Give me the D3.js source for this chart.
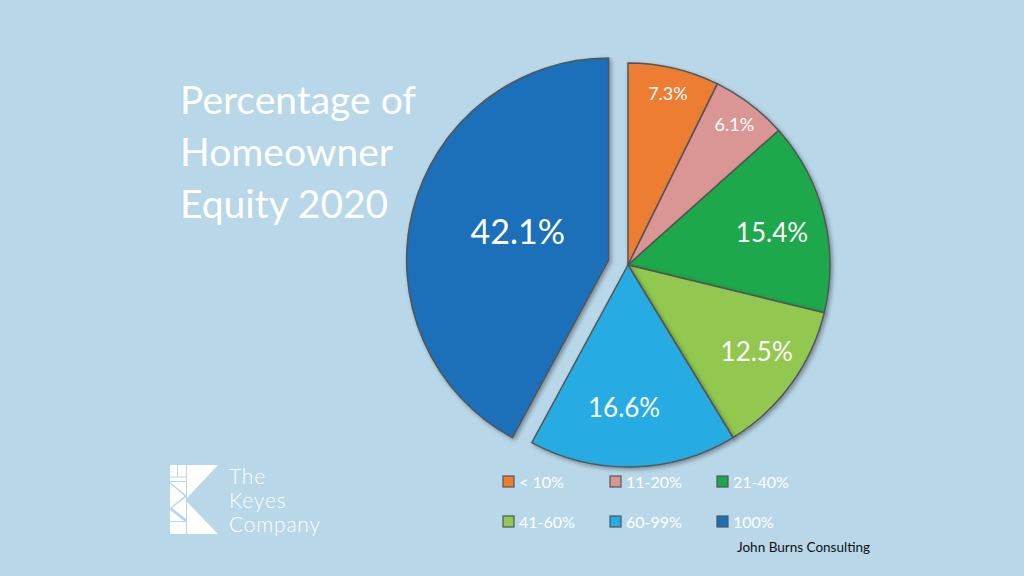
<!DOCTYPE html>
<html>
<head>
<meta charset="utf-8">
<script src="https://cdn.jsdelivr.net/npm/d3@7"></script>
<style>
  body { margin: 0; background: #b8d7e8; }
  svg { display: block; font-family: "Lato", "Open Sans", sans-serif; }
</style>
</head>
<body>
<svg id="chart"></svg>
<script>
// data
const categories = ["< 10%", "11-20%", "21-40%", "41-60%", "60-99%", "100%"];
const shares = [7.3, 6.1, 15.4, 12.5, 16.6, 42.1];
const colors = ["#ed7d31", "#da9694", "#1aa84c", "#92c84f", "#27ace3", "#1a6fba"];
const titleLines = ["Percentage of", "Homeowner", "Equity 2020"];
const logoLines = ["The", "Keyes", "Company"];

const svgWidth = 1024, svgHeight = 576;
const cx = 628, cy = 265, radius = 202;

const svg = d3.select("#chart")
    .attr("width", svgWidth)
    .attr("height", svgHeight);

svg.append("rect").attr("width", svgWidth).attr("height", svgHeight).attr("fill", "#b8d7e8");

// soft shadow under the slices
const defs = svg.append("defs");
const shadow = defs.append("filter").attr("id", "shadow")
    .attr("x", "-20%").attr("y", "-20%").attr("width", "140%").attr("height", "140%");
shadow.append("feDropShadow")
    .attr("dx", 2).attr("dy", 2).attr("stdDeviation", 2)
    .attr("flood-color", "#000").attr("flood-opacity", 0.35);

const data = categories.map((c, i) => ({ cat: c, value: shares[i], color: colors[i] }));

const pie = d3.pie().value(d => d.value).sort(null);
const arc = d3.arc().innerRadius(0).outerRadius(radius);

const arcs = pie(data);
const explode = 20;

const g = svg.append("g").attr("transform", `translate(${cx}, ${cy})`);

const slices = g.selectAll("g.slice")
    .data(arcs)
    .join("g")
    .attr("class", "slice")
    .attr("transform", d => {
        if (d.data.cat !== "100%") return null;
        const mid = (d.startAngle + d.endAngle) / 2;
        return `translate(${Math.sin(mid) * explode}, ${-Math.cos(mid) * explode})`;
    });

slices.append("path")
    .attr("d", arc)
    .attr("fill", d => d.data.color)
    .attr("stroke", "#555")
    .attr("stroke-width", 1.5)
    .attr("filter", "url(#shadow)");

// slice labels: [distance as share of radius, angle shift in degrees, font size]
const labelPos = {
    "< 10%": [0.87, 0, 18],
    "11-20%": [0.87, 0, 18],
    "21-40%": [0.73, 1.5, 26],
    "41-60%": [0.77, -2, 26],
    "60-99%": [0.71, 3, 26],
    "100%": [0.47, 2.7, 34]
};
slices.append("text")
    .attr("transform", d => {
        const p = labelPos[d.data.cat];
        const mid = (d.startAngle + d.endAngle) / 2 + p[1] * Math.PI / 180;
        const r = p[0] * radius;
        return `translate(${Math.sin(mid) * r}, ${-Math.cos(mid) * r})`;
    })
    .attr("text-anchor", "middle")
    .attr("dy", "0.35em")
    .attr("fill", "#fff")
    .style("font-size", d => labelPos[d.data.cat][2] + "px")
    .text(d => d.data.value.toFixed(1) + "%");

// title
svg.append("g").selectAll("text")
    .data(titleLines)
    .join("text")
    .attr("x", 180)
    .attr("y", (d, i) => 114 + i * 52)
    .attr("fill", "#fff")
    .style("font-size", "39px")
    .text(d => d);

// legend, 3 columns x 2 rows
const legend = svg.append("g");
const legendItems = legend.selectAll("g")
    .data(data)
    .join("g")
    .attr("transform", (d, i) => `translate(${503 + (i % 3) * 107}, ${476 + Math.floor(i / 3) * 40})`);
legendItems.append("rect")
    .attr("width", 11).attr("height", 11)
    .attr("fill", d => d.color)
    .attr("stroke", "#555").attr("stroke-width", 1.2);
legendItems.append("text")
    .attr("x", 16).attr("y", 11.5)
    .attr("fill", "#fff")
    .style("font-size", "16px")
    .text(d => d.cat);

// source
svg.append("text")
    .attr("x", 737).attr("y", 552)
    .attr("fill", "#111")
    .style("font-size", "13.5px")
    .text("John Burns Consulting");

// logo mark
const logo = svg.append("g").attr("transform", "translate(170, 465)").attr("fill", "#fff");
const shapes = [
    [[0, 0], [7, 0], [7, 11.5], [0, 11.5]],
    [[8, 0], [16, 0], [16, 11.5], [8, 11.5]],
    [[0, 12.5], [16, 12.5], [16, 16], [0, 16]],
    [[0, 17], [16, 17], [16, 30]],
    [[0, 18.5], [14.5, 31], [0, 43]],
    [[16, 32], [16, 54], [2, 43]],
    [[0, 45], [14, 56], [0, 56]],
    [[0, 57], [16, 57], [16, 69], [0, 69]],
    [[17, 0], [48, 0], [17, 33]],
    [[17, 37], [48, 69], [17, 69]]
];
logo.selectAll("polygon")
    .data(shapes)
    .join("polygon")
    .attr("points", d => d.map(p => p.join(",")).join(" "));

svg.append("g").selectAll("text")
    .data(logoLines)
    .join("text")
    .attr("x", 229)
    .attr("y", (d, i) => 484 + i * 24)
    .attr("fill", "#fff")
    .style("font-size", "21px")
    .style("letter-spacing", "0.8px")
    .style("font-weight", 300)
    .text(d => d);
</script>
</body>
</html>
